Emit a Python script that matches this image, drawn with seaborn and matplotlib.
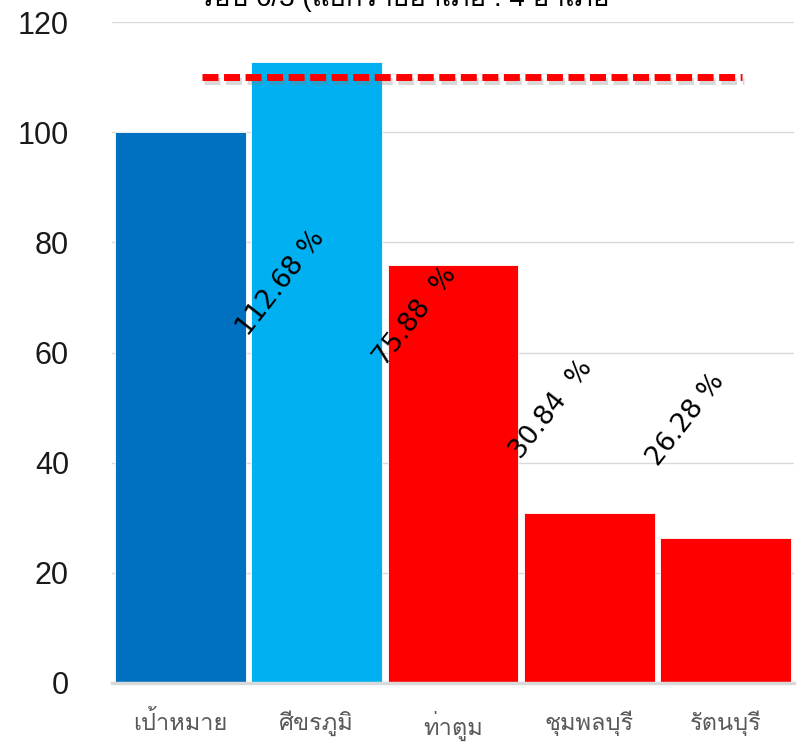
import numpy as np
import pandas as pd
import matplotlib
matplotlib.use("Agg")
import matplotlib.pyplot as plt
import matplotlib.patheffects as pe
from matplotlib import font_manager
from matplotlib.ft2font import FT2Font
import seaborn as sns

# ข้อมูล
categories = ["เป้าหมาย", "ศีขรภูมิ", "ท่าตูม", "ชุมพลบุรี", "รัตนบุรี"]
values = [100, 112.68, 75.88, 30.84, 26.28]
bar_colors = ["#0070C0", "#00B0F0", "#FF0000", "#FF0000", "#FF0000"]
target = 110
pct_labels = ["112.68 %", "75.88  %", "30.84  %", "26.28 %"]
title = "รอบ 6/3 (แยกรายอำเภอ : 4 อำเภอ"

# ตำแหน่งป้าย (layout)
label_y = [62.8, 57.4, 40.5, 39.2]


def find_thai_font():
    for f in font_manager.fontManager.ttflist:
        try:
            cmap = FT2Font(f.fname).get_charmap()
        except Exception:
            continue
        if 0x0E01 in cmap and 0x0E35 in cmap:
            return f.name
    return None


sns.set_theme(style="white")
thai = find_thai_font()
fams = ["Liberation Sans"] + ([thai] if thai else []) + ["DejaVu Sans"]
plt.rcParams["font.family"] = fams

df = pd.DataFrame({"cat": categories, "val": values})

fig = plt.figure(figsize=(7.98, 7.47), dpi=100)
ax = fig.add_axes([0.1404, 0.0857, 0.8546, 0.8848])

sns.barplot(data=df, x="cat", y="val", hue="cat", palette=bar_colors,
            width=0.96, legend=False, ax=ax, saturation=1,
            edgecolor="white", linewidth=0.6)

ax.set_ylim(0, 120)
ax.set_xlim(-0.5, 4.5)
ax.set_yticks(np.arange(0, 121, 20))
ax.yaxis.grid(True, color="#d9d9d9", linewidth=1)
ax.set_axisbelow(True)
for s in ["left", "right", "top"]:
    ax.spines[s].set_visible(False)
ax.spines["bottom"].set_color("#d9d9d9")
ax.spines["bottom"].set_linewidth(2.5)
ax.set_xlabel("")
ax.set_ylabel("")
ax.tick_params(axis="y", length=0, pad=31, labelsize=22, labelcolor="#1a1a1a")
ax.tick_params(axis="x", length=0, pad=20, labelsize=17, labelcolor="#595959")
for t in ax.get_xticklabels():
    t.set_fontweight("light")

# เส้นเป้าหมาย
ax.plot([0.16, 4.12], [target, target], color="#FF0000", linewidth=5,
        linestyle=(0, (2.3, 0.8)), solid_capstyle="butt", dash_capstyle="butt",
        path_effects=[pe.SimpleLineShadow(offset=(1.5, -3), alpha=0.3, shadow_color="gray"),
                      pe.Normal()])

# ป้ายเปอร์เซ็นต์
for i, (lab, y) in enumerate(zip(pct_labels, label_y), start=1):
    ax.text(i - 0.5, y, lab, rotation=52, rotation_mode="anchor",
            ha="left", va="baseline", fontsize=19, color="black",
            family=["DejaVu Sans"])

fig.text(0.507, 1.004, title, ha="center", va="center", fontsize=20, color="black")

fig.savefig("out.png", dpi=100)
